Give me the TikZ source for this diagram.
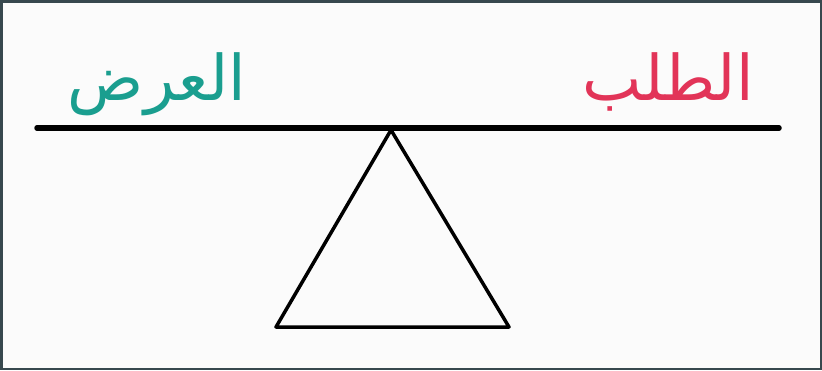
\documentclass[tikz,border=0pt]{standalone}
\usepackage{fontspec}
\TeXXeTstate=1
\newfontfamily\arabicfont[Script=Arabic]{DejaVu Sans}
\definecolor{supplyteal}{RGB}{26,158,143}
\definecolor{demandpink}{RGB}{226,52,88}
\definecolor{framegray}{RGB}{55,72,78}
\begin{document}
\begin{tikzpicture}[x=1pt,y={(0,-1pt)},
  beam/.style={line width=5.5pt,line cap=round,black},
  stand/.style={line width=3.5pt,line join=round,line cap=round,black},
  word/.style={font=\arabicfont\fontsize{63}{66}\selectfont,inner sep=0pt}]
\useasboundingbox (0,0) rectangle (822,370);
\fill[white!97!gray] (0,0) rectangle (822,370);
\draw[framegray,line width=2.5pt] (1.25,1.25) rectangle (820.75,368.75);
\coordinate (bl) at (37,128);
\coordinate (br) at (779,128);
\coordinate (apex) at (391,130);
\coordinate (b1) at (276,327);
\coordinate (b2) at (509,327);
\draw[beam] (bl) -- (br);
\draw[stand] (apex) -- (b1) -- (b2) -- cycle;
\node[word,text=supplyteal] (supply) at (157,84) {\beginR العرض\endR};
\node[word,text=demandpink] (demand) at (668,82) {\beginR الطلب\endR};
\end{tikzpicture}
\end{document}
